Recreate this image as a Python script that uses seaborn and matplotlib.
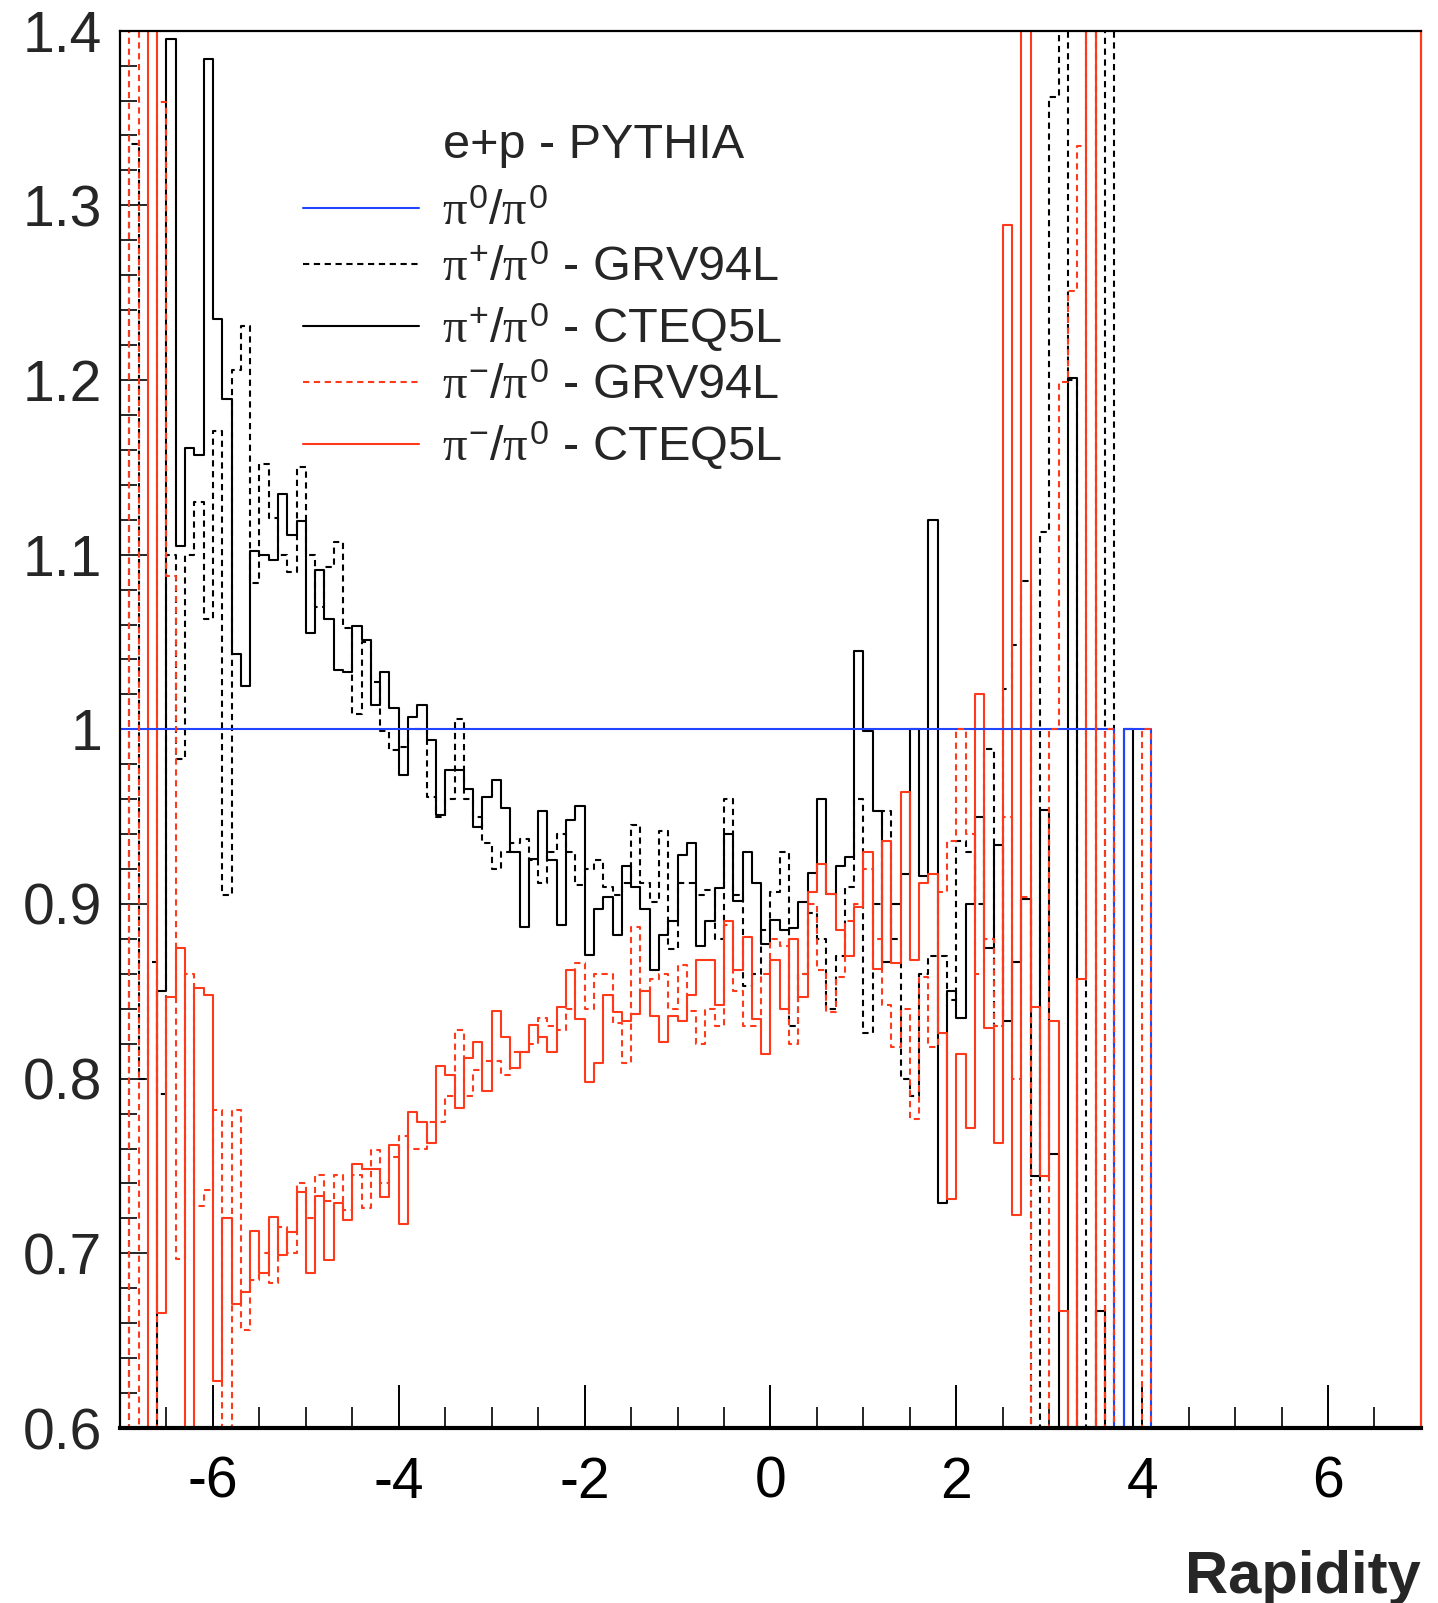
import numpy as np
import pandas as pd
import matplotlib
matplotlib.use("Agg")
import matplotlib.pyplot as plt
import seaborn as sns
from matplotlib.lines import Line2D
from matplotlib.ticker import FixedLocator, FixedFormatter, MultipleLocator

# ---------------- data (140 bins of width 0.1 from -7 to 7) ----------------
n_bins = 140
rapidity_range = (-7.0, 7.0)

pi0_pi0 = [1.0] * 107 + [0.0] + [1.0] * 3 + [0.0] * 29

pip_grv94l = [
    0.0, 1.335, 0.80, 0.867, 0.791, 1.10, 0.983, 1.10, 1.13, 1.063,
    1.171, 0.905, 1.206, 1.231, 1.084, 1.152, 1.121, 1.100, 1.090, 1.150,
    1.100, 1.070, 1.093, 1.107, 1.058, 1.009, 1.050, 1.027, 0.999, 0.988,
    0.990, 1.000, 1.000, 0.961, 0.950, 0.960, 1.006, 0.960, 0.950, 0.935,
    0.920, 0.930, 0.935, 0.937, 0.925, 0.912, 0.930, 0.940, 0.930, 0.911,
    0.920, 0.925, 0.910, 0.905, 0.912, 0.945, 0.912, 0.901, 0.942, 0.874,
    0.912, 0.912, 0.905, 0.908, 0.880, 0.960, 0.905, 0.853, 0.860, 0.885,
    0.907, 0.930, 0.830, 0.860, 0.895, 0.880, 0.840, 0.870, 0.910, 0.960,
    0.826, 0.900, 0.953, 0.880, 0.800, 0.790, 0.860, 0.870, 0.870, 0.845,
    0.936, 0.930, 0.900, 0.989, 0.830, 1.023, 1.048, 1.085, 0.0, 1.113,
    1.362, 1.500, 1.200, 0.0, 1.500, 0.0, 1.500, 0.0, 0.0, 0.0, 0.0,
] + [0.0] * 29

pip_cteq5l = [
    0.0, 0.0, 0.0, 0.0, 0.850, 1.395, 1.105, 1.161, 1.157, 1.384,
    1.235, 1.189, 1.043, 1.025, 1.102, 1.100, 1.097, 1.135, 1.111, 1.119,
    1.055, 1.091, 1.063, 1.034, 1.033, 1.059, 1.051, 1.014, 1.033, 1.012,
    0.974, 1.007, 1.014, 0.994, 0.951, 0.977, 0.977, 0.966, 0.944, 0.961,
    0.971, 0.955, 0.930, 0.887, 0.926, 0.953, 0.925, 0.888, 0.948, 0.956,
    0.871, 0.897, 0.904, 0.882, 0.922, 0.910, 0.897, 0.862, 0.882, 0.890,
    0.928, 0.935, 0.876, 0.890, 0.909, 0.940, 0.902, 0.930, 0.912, 0.877,
    0.891, 0.885, 0.886, 0.901, 0.918, 0.960, 0.906, 0.922, 0.927, 1.045,
    0.999, 0.953, 0.867, 0.900, 0.917, 1.000, 0.916, 1.120, 0.729, 0.850,
    0.835, 0.900, 0.950, 0.875, 0.934, 0.833, 0.867, 0.903, 0.744, 0.954,
    0.757, 0.0, 1.201, 0.0, 0.0, 0.667, 0.0, 0.0, 1.000, 0.0, 0.0,
] + [0.0] * 29

pim_grv94l = [
    0.0, 1.500, 0.0, 0.0, 1.359, 1.088, 0.697, 0.860, 0.727, 0.736,
    0.782, 0.0, 0.782, 0.656, 0.685, 0.700, 0.683, 0.715, 0.700, 0.740,
    0.720, 0.745, 0.730, 0.745, 0.725, 0.745, 0.726, 0.759, 0.740, 0.755,
    0.767, 0.760, 0.760, 0.775, 0.775, 0.790, 0.828, 0.790, 0.805, 0.810,
    0.810, 0.802, 0.815, 0.815, 0.820, 0.835, 0.830, 0.828, 0.840, 0.866,
    0.840, 0.860, 0.860, 0.832, 0.809, 0.887, 0.850, 0.857, 0.860, 0.840,
    0.865, 0.839, 0.820, 0.840, 0.830, 0.888, 0.850, 0.830, 0.830, 0.860,
    0.880, 0.876, 0.820, 0.860, 0.900, 0.862, 0.838, 0.858, 0.890, 0.900,
    0.920, 0.880, 0.842, 0.818, 0.840, 0.777, 0.858, 0.818, 0.907, 0.936,
    1.000, 0.940, 0.860, 0.880, 0.830, 0.950, 0.800, 0.904, 0.0, 0.0,
    1.000, 1.199, 1.251, 1.334, 1.500, 0.0, 1.000, 0.0, 0.0, 0.0, 1.000,
] + [0.0] * 29

pim_cteq5l = [
    0.0, 0.0, 0.0, 1.500, 0.666, 0.847, 0.875, 0.0, 0.852, 0.848,
    0.627, 0.720, 0.671, 0.678, 0.713, 0.689, 0.721, 0.699, 0.712, 0.735,
    0.689, 0.733, 0.696, 0.729, 0.719, 0.751, 0.748, 0.748, 0.732, 0.762,
    0.717, 0.781, 0.775, 0.763, 0.807, 0.802, 0.783, 0.812, 0.821, 0.793,
    0.839, 0.824, 0.806, 0.815, 0.831, 0.824, 0.815, 0.841, 0.862, 0.834,
    0.798, 0.809, 0.848, 0.838, 0.833, 0.837, 0.850, 0.836, 0.821, 0.836,
    0.833, 0.848, 0.868, 0.868, 0.842, 0.890, 0.862, 0.881, 0.834, 0.814,
    0.868, 0.840, 0.880, 0.847, 0.907, 0.923, 0.906, 0.885, 0.870, 0.898,
    0.930, 0.863, 0.936, 0.866, 0.964, 0.868, 0.912, 0.917, 0.826, 0.731,
    0.814, 0.772, 1.020, 0.829, 0.763, 1.289, 0.722, 1.500, 0.841, 0.744,
    0.833, 0.667, 0.0, 0.857, 1.500, 0.0, 0.0, 0.0, 0.0, 0.0, 0.0,
] + [0.0] * 29

series_labels = [
    r"$\pi^{0}/\pi^{0}$",
    r"$\pi^{+}/\pi^{0}$ - GRV94L",
    r"$\pi^{+}/\pi^{0}$ - CTEQ5L",
    r"$\pi^{-}/\pi^{0}$ - GRV94L",
    r"$\pi^{-}/\pi^{0}$ - CTEQ5L",
]
x_ticks = [-6, -4, -2, 0, 2, 4, 6]
y_ticks = [0.6, 0.7, 0.8, 0.9, 1.0, 1.1, 1.2, 1.3, 1.4]
y_tick_labels = ["0.6", "0.7", "0.8", "0.9", "1", "1.1", "1.2", "1.3", "1.4"]

# ---------------- style ----------------
sns.set_style("white")
plt.rcParams["font.family"] = ["Liberation Sans", "DejaVu Sans"]
plt.rcParams["mathtext.fontset"] = "custom"
plt.rcParams["mathtext.rm"] = "Liberation Sans"
plt.rcParams["mathtext.it"] = "Liberation Serif"
plt.rcParams["mathtext.bf"] = "Liberation Sans:bold"
plt.rcParams["axes.unicode_minus"] = False

RED = "#ff3a1a"
BLUE = "#2244ff"
BLACK = "#000000"
LW = 1.5
DASH = (0, (3.0, 2.2))

width = (rapidity_range[1] - rapidity_range[0]) / n_bins
centers = rapidity_range[0] + width * (np.arange(n_bins) + 0.5)
df = pd.DataFrame({
    "rapidity": centers,
    "pi0_pi0": pi0_pi0,
    "pip_grv94l": pip_grv94l,
    "pip_cteq5l": pip_cteq5l,
    "pim_grv94l": pim_grv94l,
    "pim_cteq5l": pim_cteq5l,
})

fig = plt.figure(figsize=(14.38, 16.03), dpi=100)
ax = fig.add_axes([0.08345, 0.10917, 0.9047, 0.8717])

styles = [
    ("pip_grv94l", BLACK, DASH, 2.0),
    ("pip_cteq5l", BLACK, "-", 2.1),
    ("pim_cteq5l", RED, "-", 2.2),
    ("pi0_pi0", BLUE, "-", 2.3),
    ("pim_grv94l", RED, DASH, 2.4),
]
for col, color, ls, z in styles:
    sns.histplot(data=df, x="rapidity", weights=col, bins=n_bins,
                 binrange=rapidity_range,
                 element="step", fill=False, color=color, linewidth=LW,
                 linestyle=ls, zorder=z, ax=ax)

ax.set_xlim(-7, 7)
ax.set_ylim(0.6, 1.4)

# axes frame
for side in ["top", "bottom", "left", "right"]:
    ax.spines[side].set_visible(True)
    ax.spines[side].set_color("black")
    ax.spines[side].set_linewidth(1.6)
ax.spines["bottom"].set_linewidth(3.0)
ax.spines["right"].set_color(RED)

ax.xaxis.set_major_locator(FixedLocator(x_ticks))
ax.xaxis.set_minor_locator(MultipleLocator(0.5))
ax.yaxis.set_major_locator(FixedLocator(y_ticks))
ax.yaxis.set_major_formatter(FixedFormatter(y_tick_labels))
ax.yaxis.set_minor_locator(MultipleLocator(0.02))

ax.tick_params(axis="x", which="major", direction="in", length=31, width=1.4,
               labelsize=41, pad=20, top=False, bottom=True, colors="black")
ax.tick_params(axis="x", which="minor", direction="in", length=15, width=1.4,
               top=False, bottom=True)
ax.tick_params(axis="y", which="major", direction="in", length=20, width=1.4,
               labelsize=41, pad=13, right=False, left=True)
ax.tick_params(axis="y", which="minor", direction="in", length=12, width=1.4,
               right=False, left=True)

ax.set_ylabel("")
ax.set_xlabel("Rapidity", loc="right", fontsize=43, fontweight="bold", labelpad=29)

# legend
handles = [
    Line2D([], [], color=BLUE, lw=LW),
    Line2D([], [], color=BLACK, lw=LW, linestyle=DASH),
    Line2D([], [], color=BLACK, lw=LW),
    Line2D([], [], color=RED, lw=LW, linestyle=DASH),
    Line2D([], [], color=RED, lw=LW),
]
leg = ax.legend(handles, series_labels, loc="upper left",
                bbox_to_anchor=(0.141, 0.886), frameon=False, fontsize=35,
                handlelength=2.38, handletextpad=0.48, labelspacing=0.22,
                borderpad=0.0, borderaxespad=0.0)
ax.text(0.248, 0.9175, "e+p - PYTHIA", transform=ax.transAxes,
        fontsize=35, ha="left", va="center")

fig.savefig("out.png", dpi=100)
